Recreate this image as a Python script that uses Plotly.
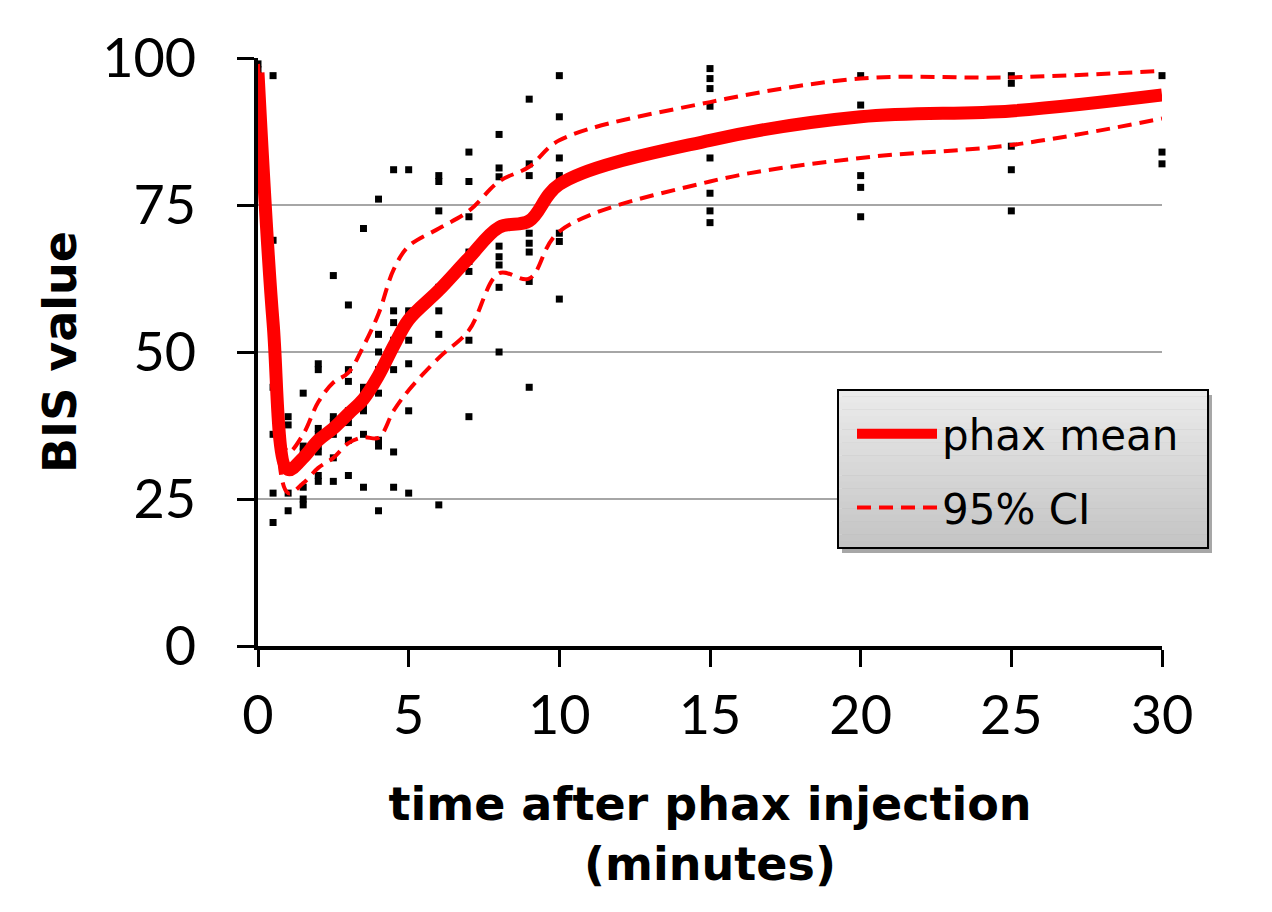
import plotly.graph_objects as go

# Curve time points (minutes)
curve_time = [0, 0.5, 1, 1.5, 2, 2.5, 3, 3.5, 4, 4.5, 5, 6, 7, 8, 9, 10, 15, 20, 25, 30]
phax_mean = [97.5, 55, 30, 32, 35, 37, 39.5, 42, 46, 51, 55.5, 60.5, 66, 71.2, 72.3, 78.5, 86, 90, 91, 93.7]
ci_upper = [99, 62, 33, 36, 41.5, 44.8, 46.5, 51, 56.5, 64, 68, 71, 74, 79, 81.5, 86, 92.5, 96.5, 96.7, 97.8]
ci_lower = [95, 48, 26, 27.7, 30.3, 32, 34.5, 35.5, 35.4, 40, 43.5, 49, 53.7, 63.4, 62.5, 70.5, 79, 83, 85.2, 89.7]

# Individual observations
obs_time = (
    [0] * 7 + [0.5] * 9 + [1] * 5 + [1.5] * 6 + [2] * 8 + [2.5] * 6 + [3] * 7 + [3.5] * 7
    + [4] * 8 + [4.5] * 7 + [5] * 7 + [6] * 7 + [7] * 8 + [8] * 8 + [9] * 8 + [10] * 7
    + [15] * 8 + [20] * 5 + [25] * 5 + [30] * 3
)
obs_bis = (
    [99, 98, 97, 96, 95, 94, 93]
    + [97, 69, 59, 58, 53, 44, 36, 26, 21]
    + [39, 37.6, 30, 26, 23]
    + [43, 34, 33, 27, 25, 24]
    + [48, 47, 37, 36, 34, 33, 29, 28]
    + [63, 39, 38, 36, 32, 28]
    + [58, 47, 45, 40, 38, 35, 29]
    + [71, 44, 43, 41, 40, 36, 27]
    + [76, 53, 50, 47, 43, 35, 34, 23]
    + [81, 57, 55, 52, 47, 33, 27]
    + [81, 57, 56, 52, 48, 40, 26]
    + [80, 79, 74, 61, 57, 53, 24]
    + [84, 79, 73, 67, 65.4, 63.7, 52, 39]
    + [87, 81.3, 79.8, 68, 66.2, 64.8, 61, 50]
    + [93, 82, 80, 70.2, 68.5, 67, 62, 44]
    + [97, 90, 83, 80, 70.2, 68.8, 59]
    + [98.2, 96.5, 94.8, 91.8, 83, 77, 74, 72]
    + [97, 92, 80, 78, 73]
    + [97, 95.7, 85, 81, 74]
    + [97, 84, 82]
)

x_ticks = [0, 5, 10, 15, 20, 25, 30]
y_ticks = [0, 25, 50, 75, 100]

TICK_FONT = "Lato"
TITLE_FONT = "DejaVu Sans"
RED = "#ff0000"

fig = go.Figure()
fig.add_trace(go.Scatter(
    x=obs_time, y=obs_bis, mode="markers", showlegend=False, cliponaxis=False,
    marker=dict(symbol="square", size=7, color="black"),
))
fig.add_trace(go.Scatter(
    x=curve_time, y=phax_mean, mode="lines", name="phax mean", legendgroup="a",
    line=dict(color=RED, width=13, shape="spline", smoothing=1.0),
))
fig.add_trace(go.Scatter(
    x=curve_time, y=ci_upper, mode="lines", name="95% CI", legendgroup="b",
    line=dict(color=RED, width=4, dash="14px,8px", shape="spline", smoothing=1.0),
))
fig.add_trace(go.Scatter(
    x=curve_time, y=ci_lower, mode="lines", showlegend=False, legendgroup="b",
    line=dict(color=RED, width=4, dash="14px,8px", shape="spline", smoothing=1.0),
))

# page body has an 8px offset: work in page pixels, convert to figure pixels
OFF = 8
W, H = 1272, 912
ml, mt = 258 - OFF, 58 - OFF
pr, pb = 1162 - OFF, 646 - OFF
mr, mb = W - pr, H - pb
pw, ph = pr - ml, pb - mt

def px_x(p):
    return (p - OFF - ml) / pw

def px_y(p):
    return (pb - (p - OFF)) / ph

shapes = []
bx0, bx1, by0, by1 = 838, 1208, 390, 548
shapes.append(dict(type="rect", xref="paper", yref="paper",
                   x0=px_x(bx0 + 4), x1=px_x(bx1 + 4), y0=px_y(by1 + 5), y1=px_y(by0 + 5),
                   fillcolor="rgba(60,60,60,0.45)", line=dict(width=0), layer="above"))
nb = 24
for i in range(nb):
    t0 = by0 + (by1 - by0) * i / nb
    t1 = by0 + (by1 - by0) * (i + 1) / nb
    g = int(236 - (236 - 196) * (i + 0.5) / nb)
    shapes.append(dict(type="rect", xref="paper", yref="paper",
                       x0=px_x(bx0), x1=px_x(bx1), y0=px_y(t1), y1=px_y(t0) + 0.0005,
                       fillcolor=f"rgb({g},{g},{g})", line=dict(width=0), layer="above"))
shapes.append(dict(type="rect", xref="paper", yref="paper",
                   x0=px_x(bx0), x1=px_x(bx1), y0=px_y(by1), y1=px_y(by0),
                   fillcolor="rgba(0,0,0,0)", line=dict(color="black", width=2), layer="above"))

fig.update_layout(
    width=W, height=H,
    margin=dict(l=ml, r=mr, t=mt, b=mb, autoexpand=False),
    paper_bgcolor="white", plot_bgcolor="white",
    font=dict(family=TICK_FONT, color="black"),
    shapes=shapes,
    legend=dict(
        x=px_x(852), y=px_y(400), xanchor="left", yanchor="top",
        bgcolor="rgba(0,0,0,0)", borderwidth=0,
        font=dict(family=TITLE_FONT, size=42, color="black"),
        itemwidth=80, tracegroupgap=16, traceorder="grouped",
    ),
)
fig.update_xaxes(
    range=[0, 30], tickvals=x_ticks, ticktext=[str(v) for v in x_ticks],
    showgrid=False, zeroline=False,
    showline=True, linecolor="black", linewidth=4,
    ticks="outside", ticklen=17, tickwidth=3, tickcolor="black",
    tickfont=dict(family=TICK_FONT, size=54), ticklabelstandoff=2,
    title=dict(text="<b>time after phax injection<br>(minutes)</b>",
               font=dict(family=TITLE_FONT, size=46), standoff=44),
)
fig.update_yaxes(
    range=[0, 100], tickvals=y_ticks, ticktext=[str(v) for v in y_ticks],
    showgrid=True, gridcolor="#a6a6a6", gridwidth=2, zeroline=False,
    showline=True, linecolor="black", linewidth=4,
    ticks="outside", ticklen=17, tickwidth=3, tickcolor="black",
    tickfont=dict(family=TICK_FONT, size=54), ticklabelstandoff=30,
    title=dict(text="<b>BIS value</b>", font=dict(family=TITLE_FONT, size=46), standoff=12),
)

fig.write_html("out.html")
